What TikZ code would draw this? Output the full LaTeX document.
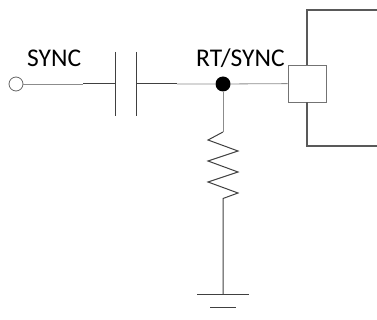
\documentclass[tikz,border=0pt]{standalone}
\usepackage{fontspec}
\setmainfont{Carlito}
\begin{document}
\begin{tikzpicture}[x=1pt,y=-1pt,
  wire/.style = {draw=black!45, line width=0.8pt},
  lead/.style = {draw=black!75, line width=1pt},
  frame/.style = {draw=black!65, line width=2pt},
  pin/.style = {shape=rectangle, draw=black!55, fill=white, line width=0.8pt,
    minimum width=38pt, minimum height=37pt, inner sep=0pt},
  term/.style = {shape=circle, draw=black!60, fill=white, line width=0.8pt,
    minimum size=14pt, inner sep=0pt},
  junc/.style = {shape=circle, fill=black, minimum size=15pt, inner sep=0pt},
  tag/.style = {anchor=base west, inner sep=0pt, font=\fontsize{25.5}{30}\selectfont}
  ]
  \useasboundingbox (0,0) rectangle (377,320);
  \node [term] (in) at (16,84) {};
  \node [junc] (dot) at (223,84) {};
  \node [pin] (pin) at (307,83.5) {};
  \node [tag] (synclabel) at (27,66.5) {SYNC};
  \node [tag] (rtlabel) at (196,66.5) {RT/SYNC};
  \coordinate (la) at (83,84);
  \coordinate (cl) at (115,84);
  \coordinate (cr) at (136,84);
  \coordinate (lb) at (177,84);
  \coordinate (rtop) at (223,132);
  \coordinate (gnd) at (223,294);
  \coordinate (ftop) at (377,10);
  \coordinate (fbot) at (377,146);
  % input, capacitor
  \draw [wire] (in) -- (la);
  \draw [lead] (la) -- (cl) (cr) -- (lb);
  \draw [lead] (cl) ++(0,-32) -- ++(0,64);
  \draw [lead] (cr) ++(0,-32) -- ++(0,64);
  \draw [wire] (lb) -- (dot) -- (pin);
  % resistor to ground
  \draw [wire] (dot) -- (rtop);
  \draw [lead] (rtop) -- ++(-15,8) -- ++(30,11) -- ++(-30,10) -- ++(30,11)
    -- ++(-30,10) -- ++(30,11) -- ++(-15,5.5) -- (gnd);
  \draw [lead] (gnd) ++(-26,0) -- ++(52,0);
  \draw [lead] (gnd) ++(-13,13) -- ++(26,0);
  % device outline
  \draw [frame] (ftop) -| (pin.north);
  \draw [frame] (fbot) -| (pin.south);
\end{tikzpicture}
\end{document}
